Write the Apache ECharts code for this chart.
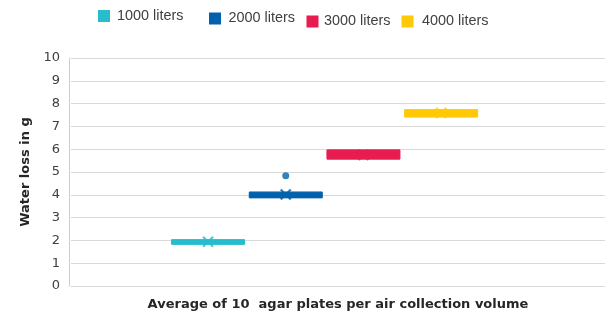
<!DOCTYPE html>
<html>
<head>
<meta charset="utf-8">
<script src="https://cdn.jsdelivr.net/npm/echarts@6/dist/echarts.min.js"></script>
<style>
html, body { margin: 0; padding: 0; background: #fff; }
#chart { width: 605px; height: 316px; }
</style>
</head>
<body>
<div id="chart"></div>
<script>
// air collection volumes (one box each)
var volumes = ['1000 liters', '2000 liters', '3000 liters', '4000 liters']
var colors = ['#27bdcc', '#0061ad', '#e71d50', '#ffc905']

// [min, Q1, median, Q3, max] water loss in g
var boxData = [
  [1.87, 1.87, 1.96, 2.06, 2.06],
  [3.90, 3.90, 4.00, 4.14, 4.14],
  [5.59, 5.59, 5.78, 5.98, 5.98],
  [7.43, 7.43, 7.58, 7.74, 7.74]
]
var means = [1.98, 4.04, 5.77, 7.60]
var outliers = [[], [4.86], [], []]

var yMin = 0
var yMax = 10
var yStep = 1

// legend placement (items are staggered in the original)
var legendPos = [
  { left: 98, top: 9, pad: 3 },
  { left: 209, top: 11.5, pad: 3.5 },
  { left: 306.5, top: 14.5, pad: 1.5 },
  { left: 401.5, top: 14.5, pad: 4.5 }
]

var crossPath = 'path://M0,0L10,10M0,10L10,0'

function buildOption() {
  var grids = [{ left: 71, right: 0, top: 58, bottom: 29 }]
  var xAxes = [{
    type: 'category',
    gridIndex: 0,
    data: [''],
    axisLine: { show: false },
    axisTick: { show: false },
    axisLabel: { show: false },
    name: 'Average of 10  agar plates per air collection volume',
    nameLocation: 'middle',
    nameGap: 12,
    nameTextStyle: { fontFamily: 'DejaVu Sans', fontWeight: 'bold', fontSize: 13, color: '#262626', verticalAlign: 'top' }
  }]
  var yAxes = [{
    type: 'value',
    gridIndex: 0,
    min: yMin,
    max: yMax,
    interval: yStep,
    offset: 2,
    axisLine: { show: true, lineStyle: { color: '#cccccc', width: 1 } },
    axisTick: { show: false },
    axisLabel: { margin: 9, fontFamily: 'DejaVu Sans', fontSize: 13, color: '#404040' },
    splitLine: { lineStyle: { color: '#d9d9d9', width: 1 } },
    name: 'Water loss in g',
    nameLocation: 'middle',
    nameGap: 37,
    nameTextStyle: { fontFamily: 'DejaVu Sans', fontWeight: 'bold', fontSize: 13, color: '#262626' }
  }]
  var legends = []
  var series = []

  volumes.forEach(function(v, i) {
    var g = i + 1
    grids.push({ left: 169.2 + 77.7 * i, width: 77.7, top: 58, bottom: 29 })
    xAxes.push({ type: 'category', gridIndex: g, data: [v], show: false })
    yAxes.push({ type: 'value', gridIndex: g, min: yMin, max: yMax, show: false })

    legends.push({
      data: [v],
      left: legendPos[i].left,
      top: legendPos[i].top,
      padding: 0,
      itemWidth: 10,
      itemHeight: 10,
      icon: 'rect',
      textStyle: {
        fontFamily: 'Liberation Sans',
        fontSize: 14.4,
        color: '#404040',
        padding: [0, 0, 0, legendPos[i].pad]
      }
    })

    series.push({
      name: v,
      type: 'boxplot',
      xAxisIndex: g,
      yAxisIndex: g,
      boxWidth: [73, 73],
      data: [boxData[i]],
      itemStyle: { color: colors[i], borderColor: colors[i], borderWidth: 1 }
    })

    series.push({
      name: v + ' mean',
      type: 'scatter',
      xAxisIndex: g,
      yAxisIndex: g,
      symbol: crossPath,
      symbolSize: 10,
      data: [[0, means[i]]],
      itemStyle: { color: 'rgba(0,0,0,0)', borderColor: colors[i], borderWidth: 2.2 },
      z: 3
    })

    if (outliers[i].length) {
      series.push({
        name: v + ' outlier',
        type: 'scatter',
        xAxisIndex: g,
        yAxisIndex: g,
        symbol: 'circle',
        symbolSize: 7,
        data: outliers[i].map(function(o) { return [0, o] }),
        itemStyle: { color: colors[i] },
        z: 3
      })
    }
  })

  return {
    animation: false,
    backgroundColor: '#ffffff',
    legend: legends,
    grid: grids,
    xAxis: xAxes,
    yAxis: yAxes,
    series: series
  }
}

var chart = echarts.init(document.getElementById('chart'), null, { renderer: 'canvas' })
chart.setOption(buildOption())
</script>
</body>
</html>
